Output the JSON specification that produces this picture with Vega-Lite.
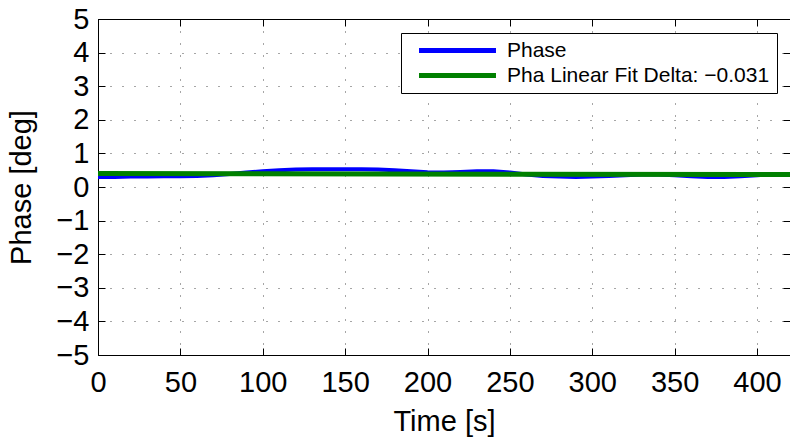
{
  "$schema": "https://vega.github.io/schema/vega-lite/v6.json",
  "width": 692,
  "height": 336,
  "autosize": {"type": "none"},
  "padding": {"left": 98, "top": 19, "right": 0, "bottom": 82},
  "background": "white",
  "config": {
    "font": "Liberation Sans",
    "view": {"stroke": "black", "strokeWidth": 1},
    "axis": {
      "labelFont": "Liberation Sans",
      "titleFont": "Liberation Sans",
      "labelFontSize": 29,
      "titleFontSize": 29,
      "labelColor": "black",
      "titleColor": "black",
      "titleFontWeight": "normal",
      "domain": false,
      "tickColor": "black",
      "tickSize": -7,
      "tickWidth": 1,
      "gridColor": "#000000",
      "gridOpacity": 0.7,
      "gridDash": [1, 11],
      "gridWidth": 1
    }
  },
  "data": {
    "values": [
      {"t": 0, "v": 0.30, "s": "Phase"},
      {"t": 10, "v": 0.30, "s": "Phase"},
      {"t": 20, "v": 0.31, "s": "Phase"},
      {"t": 30, "v": 0.31, "s": "Phase"},
      {"t": 40, "v": 0.32, "s": "Phase"},
      {"t": 50, "v": 0.32, "s": "Phase"},
      {"t": 60, "v": 0.33, "s": "Phase"},
      {"t": 70, "v": 0.35, "s": "Phase"},
      {"t": 80, "v": 0.39, "s": "Phase"},
      {"t": 90, "v": 0.43, "s": "Phase"},
      {"t": 100, "v": 0.47, "s": "Phase"},
      {"t": 110, "v": 0.50, "s": "Phase"},
      {"t": 120, "v": 0.52, "s": "Phase"},
      {"t": 130, "v": 0.53, "s": "Phase"},
      {"t": 140, "v": 0.53, "s": "Phase"},
      {"t": 150, "v": 0.53, "s": "Phase"},
      {"t": 160, "v": 0.53, "s": "Phase"},
      {"t": 170, "v": 0.52, "s": "Phase"},
      {"t": 180, "v": 0.50, "s": "Phase"},
      {"t": 190, "v": 0.47, "s": "Phase"},
      {"t": 200, "v": 0.44, "s": "Phase"},
      {"t": 210, "v": 0.43, "s": "Phase"},
      {"t": 220, "v": 0.45, "s": "Phase"},
      {"t": 230, "v": 0.47, "s": "Phase"},
      {"t": 240, "v": 0.47, "s": "Phase"},
      {"t": 250, "v": 0.43, "s": "Phase"},
      {"t": 260, "v": 0.37, "s": "Phase"},
      {"t": 270, "v": 0.33, "s": "Phase"},
      {"t": 280, "v": 0.31, "s": "Phase"},
      {"t": 290, "v": 0.30, "s": "Phase"},
      {"t": 300, "v": 0.31, "s": "Phase"},
      {"t": 310, "v": 0.33, "s": "Phase"},
      {"t": 320, "v": 0.35, "s": "Phase"},
      {"t": 330, "v": 0.37, "s": "Phase"},
      {"t": 340, "v": 0.37, "s": "Phase"},
      {"t": 350, "v": 0.35, "s": "Phase"},
      {"t": 360, "v": 0.32, "s": "Phase"},
      {"t": 370, "v": 0.30, "s": "Phase"},
      {"t": 380, "v": 0.30, "s": "Phase"},
      {"t": 390, "v": 0.32, "s": "Phase"},
      {"t": 400, "v": 0.35, "s": "Phase"},
      {"t": 410, "v": 0.38, "s": "Phase"},
      {"t": 420, "v": 0.39, "s": "Phase"},
      {"t": 0, "v": 0.400, "s": "Pha Linear Fit Delta: −0.031"},
      {"t": 420, "v": 0.369, "s": "Pha Linear Fit Delta: −0.031"}
    ]
  },
  "encoding": {
    "x": {"field": "t", "type": "quantitative", "scale": {"domain": [0, 420], "nice": false, "zero": false}},
    "y": {"field": "v", "type": "quantitative", "scale": {"domain": [-5, 5], "nice": false}},
    "color": {
      "field": "s",
      "type": "nominal",
      "scale": {"domain": ["Phase", "Pha Linear Fit Delta: −0.031"], "range": ["#0000ff", "#008000"]},
      "legend": {
        "title": null,
        "orient": "none",
        "legendX": 303,
        "legendY": 14,
        "symbolType": "M-5,0H5",
        "symbolSize": 237,
        "symbolStrokeWidth": 5,
        "symbolOffset": 39,
        "labelOffset": 39,
        "labelFont": "Liberation Sans",
        "labelFontSize": 21,
        "labelColor": "black",
        "labelLimit": 400,
        "padding": 7,
        "rowPadding": 3,
        "strokeColor": "black",
        "fillColor": "white",
        "cornerRadius": 0
      }
    }
  },
  "layer": [
    {
      "transform": [{"filter": "datum.s === 'Phase'"}],
      "mark": {"type": "line", "strokeWidth": 4},
      "encoding": {
        "x": {"field": "t", "type": "quantitative", "axis": {"title": "Time [s]", "values": [0, 50, 100, 150, 200, 250, 300, 350, 400], "labelPadding": 20, "titlePadding": 10, "labelFlush": false}},
        "y": {"field": "v", "type": "quantitative", "axis": {"title": "Phase [deg]", "values": [-5, -4, -3, -2, -1, 0, 1, 2, 3, 4, 5], "labelExpr": "replace(datum.label, '-', '−')", "labelPadding": 16, "titlePadding": 19, "labelFlush": false}}
      }
    },
    {
      "transform": [{"filter": "datum.s !== 'Phase'"}],
      "mark": {"type": "line", "strokeWidth": 5},
      "encoding": {
        "x": {"field": "t", "type": "quantitative", "axis": {"orient": "top", "title": null, "labels": false, "grid": false, "values": [0, 50, 100, 150, 200, 250, 300, 350, 400]}},
        "y": {"field": "v", "type": "quantitative", "axis": {"orient": "right", "title": null, "labels": false, "grid": false, "values": [-5, -4, -3, -2, -1, 0, 1, 2, 3, 4, 5]}}
      }
    }
  ],
  "resolve": {"axis": {"x": "independent", "y": "independent"}}
}
